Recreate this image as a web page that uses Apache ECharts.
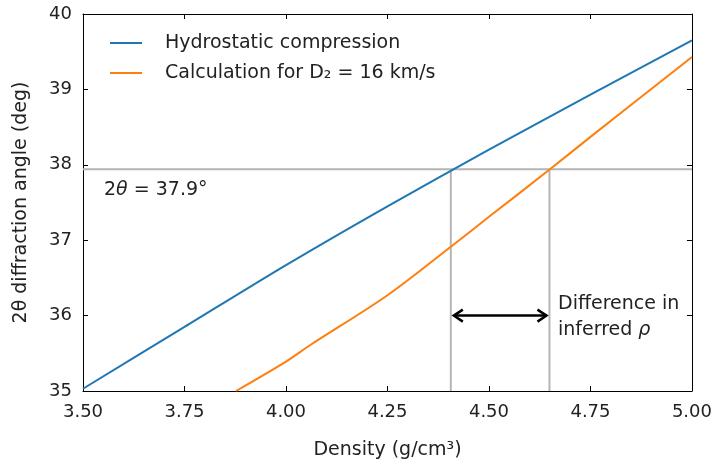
<!DOCTYPE html>
<html>
<head>
<meta charset="utf-8">
<script src="https://cdn.jsdelivr.net/npm/echarts@6/dist/echarts.min.js"></script>
<style>
html, body { margin: 0; padding: 0; background: #fff; }
#main { width: 715px; height: 465px; }
</style>
</head>
<body>
<div id="main"></div>
<script>
var font = 'DejaVu Sans';
var xTicks = [3.5, 3.75, 4.0, 4.25, 4.5, 4.75, 5.0];
var yTicks = [35, 36, 37, 38, 39, 40];

// hydrostatic compression curve
var hydroX = [3.5, 3.75, 4.0, 4.25, 4.5, 4.75, 5.0];
var hydroY = [35.03, 35.85, 36.67, 37.45, 38.20, 38.93, 39.65];

// calculation for D2 = 16 km/s
var calcX = [3.877, 4.0, 4.06, 4.25, 4.41, 4.5, 4.65, 4.75, 5.0];
var calcY = [35.0, 35.39, 35.61, 36.27, 36.93, 37.31, 37.94, 38.37, 39.43];

// measured angle and inferred densities
var angle = 37.94;
var rhoHydro = 4.406;
var rhoCalc = 4.649;
var arrowY = 36.0;

function pairs(xs, ys) {
    var res = [];
    for (var i = 0; i < xs.length; i++) {
        res.push([xs[i], ys[i]]);
    }
    return res;
}

var myChart = echarts.init(document.getElementById('main'));
var gray = '#b5b5b5';
var txt = '#222';
var fs = 19;

var option = {
    animation: false,
    backgroundColor: '#fff',
    grid: { left: 83, right: 23, top: 14, bottom: 74 },
    legend: {
        orient: 'vertical',
        left: 105, top: 28,
        icon: 'rect',
        itemWidth: 32, itemHeight: 2,
        itemGap: 10,
        data: ['Hydrostatic compression', 'Calculation for D₂ = 16 km/s'],
        textStyle: { fontFamily: font, fontSize: fs, color: txt, padding: [0, 0, 0, 18], lineHeight: 20 }
    },
    xAxis: [{
        type: 'value', min: 3.5, max: 5.0, interval: 0.25,
        name: 'Density (g/cm³)', nameLocation: 'middle', nameGap: 50,
        nameTextStyle: { fontFamily: font, fontSize: fs, color: txt },
        axisLine: { lineStyle: { color: '#000', width: 1 } },
        axisTick: { inside: true, length: 5, lineStyle: { color: '#000' } },
        axisLabel: { fontFamily: font, fontSize: 18, color: txt, margin: 12,
            formatter: function (v) { return v.toFixed(2); } },
        splitLine: { show: false }
    }, {
        type: 'value', position: 'top', min: 3.5, max: 5.0, interval: 0.25,
        axisLine: { show: true, lineStyle: { color: '#000', width: 1 } },
        axisTick: { inside: true, length: 5, lineStyle: { color: '#000' } },
        axisLabel: { show: false }, splitLine: { show: false }
    }],
    yAxis: [{
        type: 'value', min: 35, max: 40, interval: 1,
        name: '2θ diffraction angle (deg)', nameLocation: 'middle', nameGap: 52,
        nameTextStyle: { fontFamily: font, fontSize: fs, color: txt },
        axisLine: { show: true, lineStyle: { color: '#000', width: 1 } },
        axisTick: { inside: true, length: 5, lineStyle: { color: '#000' } },
        axisLabel: { fontFamily: font, fontSize: 18, color: txt, margin: 11 },
        splitLine: { show: false }
    }, {
        type: 'value', position: 'right', min: 35, max: 40, interval: 1,
        axisLine: { show: true, lineStyle: { color: '#000', width: 1 } },
        axisTick: { inside: true, length: 5, lineStyle: { color: '#000' } },
        axisLabel: { show: false }, splitLine: { show: false }
    }],
    series: [
        {
            name: 'guide-h', type: 'line', showSymbol: false, silent: true,
            data: [[3.5, angle], [5.0, angle]],
            lineStyle: { color: gray, width: 2 }, z: 1
        },
        {
            name: 'guide-v1', type: 'line', showSymbol: false, silent: true,
            data: [[rhoHydro, 35], [rhoHydro, angle]],
            lineStyle: { color: gray, width: 2 }, z: 1
        },
        {
            name: 'guide-v2', type: 'line', showSymbol: false, silent: true,
            data: [[rhoCalc, 35], [rhoCalc, angle]],
            lineStyle: { color: gray, width: 2 }, z: 1
        },
        {
            name: 'Hydrostatic compression', type: 'line', showSymbol: false, smooth: 0.3,
            data: pairs(hydroX, hydroY), clip: true,
            itemStyle: { color: '#1f77b4' },
            lineStyle: { color: '#1f77b4', width: 2 }, z: 3
        },
        {
            name: 'Calculation for D₂ = 16 km/s', type: 'line', showSymbol: false, smooth: 0.3,
            data: pairs(calcX, calcY), clip: true,
            itemStyle: { color: '#ff7f0e' },
            lineStyle: { color: '#ff7f0e', width: 2 }, z: 3
        },
        {
            name: 'arrow', type: 'custom', silent: true,
            data: [[rhoHydro, rhoCalc, arrowY]],
            renderItem: function (params, api) {
                var a = api.coord([api.value(0), api.value(2)]);
                var b = api.coord([api.value(1), api.value(2)]);
                a[0] += 3; b[0] -= 3;
                var h = 9, w = 6;
                var st = { stroke: '#000', lineWidth: 2.5, fill: null, lineJoin: 'miter' };
                return {
                    type: 'group',
                    children: [
                        { type: 'line', shape: { x1: a[0], y1: a[1], x2: b[0], y2: b[1] }, style: st },
                        { type: 'polyline', shape: { points: [[a[0] + h, a[1] - w], [a[0], a[1]], [a[0] + h, a[1] + w]] }, style: st },
                        { type: 'polyline', shape: { points: [[b[0] - h, b[1] - w], [b[0], b[1]], [b[0] - h, b[1] + w]] }, style: st }
                    ]
                };
            },
            z: 4
        }
    ],
    graphic: [
        {
            type: 'text', left: 104, top: 181,
            style: {
                text: '2{i|θ} = 37.9°',
                rich: { i: { fontStyle: 'italic', fontFamily: font, fontSize: fs, fill: txt } },
                font: fs + 'px "' + font + '"', fill: txt
            }
        },
        {
            type: 'text', left: 558, top: 291,
            style: {
                text: 'Difference in\ninferred {i|ρ}',
                lineHeight: 26,
                rich: { i: { fontStyle: 'italic', fontFamily: font, fontSize: fs, fill: txt, lineHeight: 26 } },
                font: fs + 'px "' + font + '"', fill: txt
            }
        }
    ]
};
myChart.setOption(option);
</script>
</body>
</html>
